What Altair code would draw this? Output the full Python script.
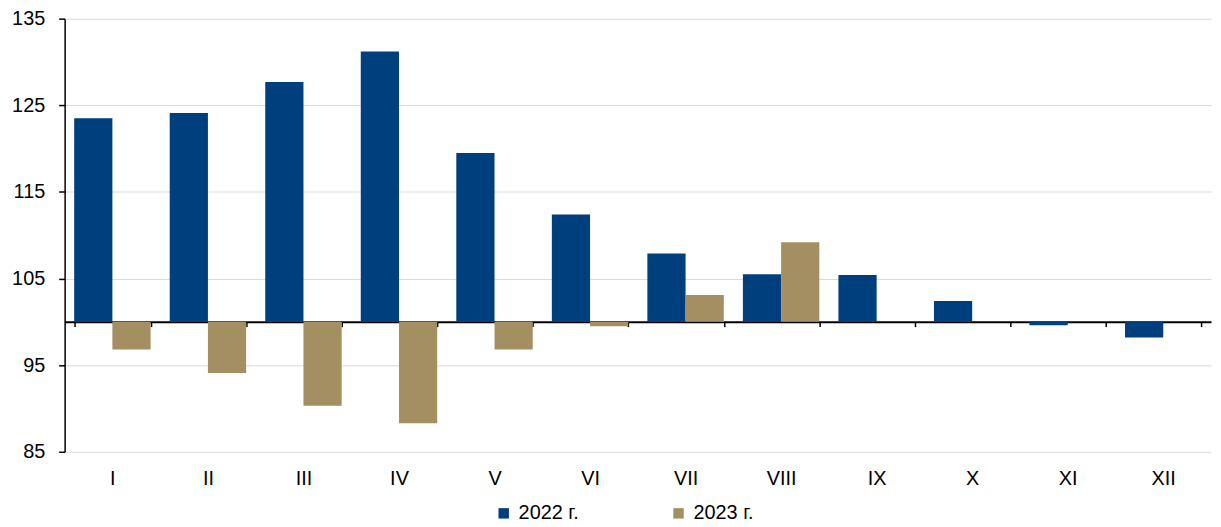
import altair as alt
import pandas as pd

months = ["I", "II", "III", "IV", "V", "VI", "VII", "VIII", "IX", "X", "XI", "XII"]
v2022 = [123.5, 124.1, 127.7, 131.2, 119.5, 112.4, 107.9, 105.5, 105.4, 102.4, 99.6, 98.2]
v2023 = [96.8, 94.1, 90.3, 88.3, 96.8, 99.5, 103.1, 109.2, None, None, None, None]
series = ["2022 г.", "2023 г."]
colors = ["#003F7D", "#A38F61"]
y_ticks = [85, 95, 105, 115, 125, 135]

rows = []
for m, a, b in zip(months, v2022, v2023):
    if a is not None:
        rows.append({"month": m, "series": series[0], "value": a})
    if b is not None:
        rows.append({"month": m, "series": series[1], "value": b})
df = pd.DataFrame(rows)

FONT = "Liberation Sans"
H = 436

chart = alt.Chart(df).mark_bar().encode(
    x=alt.X("month:N", sort=months, title=None,
            scale=alt.Scale(paddingInner=0.2, paddingOuter=0.1),
            axis=alt.Axis(orient="bottom", offset=-131, domain=True, domainColor="black",
                          domainWidth=2, ticks=True, tickColor="black", tickWidth=1.5,
                          tickSize=5, tickBand="extent", labelAngle=0, labelPadding=143,
                          labelFont=FONT, labelFontSize=20, labelColor="black", grid=False)),
    xOffset=alt.XOffset("series:N", sort=series),
    y=alt.Y("value:Q", title=None,
            scale=alt.Scale(domain=[85, 135], nice=False, zero=False),
            axis=alt.Axis(values=y_ticks, domainColor="black", domainWidth=1.5,
                          tickColor="black", tickSize=6, tickWidth=1.5, labelPadding=14,
                          labelFont=FONT, labelFontSize=20, labelColor="black",
                          grid=True, gridColor="#d9d9d9", gridWidth=1)),
    y2=alt.Y2(datum=100),
    color=alt.Color("series:N", sort=series,
                    scale=alt.Scale(domain=series, range=colors),
                    legend=alt.Legend(title=None, orient="none", direction="horizontal",
                                      legendX=432, legendY=488, symbolType="square",
                                      symbolSize=110, symbolStrokeWidth=0, symbolOpacity=1,
                                      labelFont=FONT, labelFontSize=20, labelColor="black",
                                      columnPadding=90, labelOffset=5)),
).properties(
    width=1154, height=H,
    autosize=alt.AutoSizeParams(type="none"),
    padding={"left": 57, "top": 9, "right": 2, "bottom": 74},
).configure_view(stroke=None)

chart.save("out.html", embed_options={"renderer": "svg", "actions": False})
